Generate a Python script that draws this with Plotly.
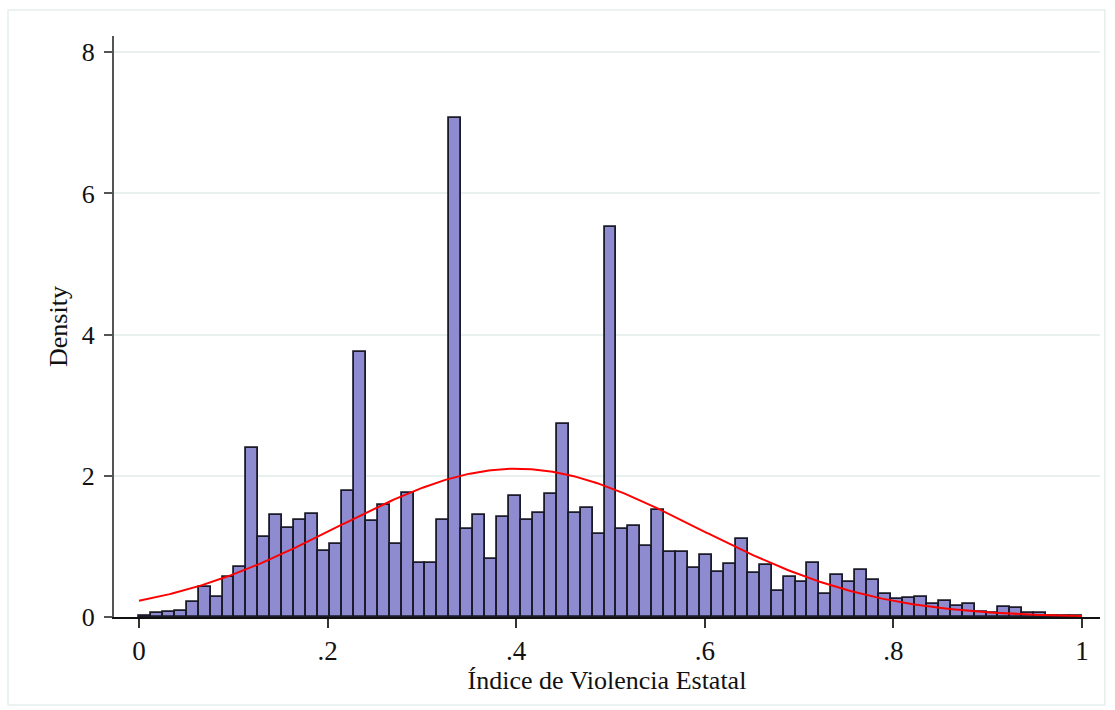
import numpy as np
import plotly.graph_objects as go

# ---- data ----
density = [
    0.02, 0.05, 0.07, 0.08, 0.21, 0.42, 0.28, 0.56, 0.71, 2.39,
    1.14, 1.44, 1.26, 1.38, 1.46, 0.93, 1.04, 1.79, 3.75, 1.36,
    1.58, 1.03, 1.75, 0.76, 0.76, 1.38, 7.07, 1.25, 1.45, 0.82,
    1.41, 1.71, 1.38, 1.48, 1.74, 2.73, 1.48, 1.55, 1.17, 5.53,
    1.25, 1.29, 1.01, 1.51, 0.92, 0.92, 0.70, 0.88, 0.64, 0.75,
    1.10, 0.62, 0.73, 0.37, 0.57, 0.50, 0.77, 0.32, 0.59, 0.50,
    0.67, 0.53, 0.33, 0.25, 0.27, 0.28, 0.19, 0.22, 0.16, 0.18,
    0.07, 0.06, 0.14, 0.13, 0.05, 0.05, 0.02, 0.01, 0.01,
]
x_min, x_max = 0.0, 1.0
norm_mean = 0.40
norm_sd = 0.19

x_tickvals = [0, 0.2, 0.4, 0.6, 0.8, 1]
x_ticktext = ["0", ".2", ".4", ".6", ".8", "1"]
y_tickvals = [0, 2, 4, 6, 8]
y_ticktext = ["0", "2", "4", "6", "8"]
x_title = "Índice de Violencia Estatal"
y_title = "Density"

# ---- derived ----
n_bins = len(density)
bw = (x_max - x_min) / n_bins
centers = x_min + bw * (np.arange(n_bins) + 0.5)

xs = np.linspace(x_min, x_max, 400)
ys = np.exp(-0.5 * ((xs - norm_mean) / norm_sd) ** 2) / (norm_sd * np.sqrt(2 * np.pi))

FONT = "Liberation Serif, Times New Roman, serif"

fig = go.Figure()
fig.add_trace(go.Bar(
    x=centers, y=density, width=bw,
    marker=dict(color="#8f8bd0", line=dict(color="#1a1a28", width=1.8)),
    showlegend=False, hoverinfo="x+y",
))
fig.add_trace(go.Scatter(
    x=xs, y=ys, mode="lines",
    line=dict(color="#ff0000", width=2),
    showlegend=False,
))

fig.update_layout(
    width=1115, height=710,
    margin=dict(l=114, r=15, t=36, b=93),
    paper_bgcolor="white", plot_bgcolor="white",
    bargap=0,
    font=dict(family=FONT, color="#111111", size=26),
)
fig.update_xaxes(
    range=[-0.0265, 1.0191],
    tickvals=x_tickvals, ticktext=x_ticktext,
    ticks="outside", ticklen=9, tickwidth=1.5, tickcolor="#333333",
    showline=True, linecolor="#111111", linewidth=2,
    showgrid=False, zeroline=False,
    tickfont=dict(family=FONT, size=27, color="#111111"),
    title=dict(text=x_title, font=dict(family=FONT, size=26, color="#111111"), standoff=0),
)
fig.update_yaxes(
    range=[0, 8.23],
    tickvals=y_tickvals, ticktext=y_ticktext,
    ticks="outside", ticklen=8, tickwidth=1.5, tickcolor="#555555",
    showline=True, linecolor="#555555", linewidth=2,
    showgrid=True, gridcolor="#e8f0f0", gridwidth=1.5,
    zeroline=False,
    ticklabelstandoff=4,
    tickfont=dict(family=FONT, size=26, color="#111111"),
    title=dict(text=y_title, font=dict(family=FONT, size=26, color="#111111"), standoff=7),
)
# light outer frame
fig.add_shape(type="rect", xref="paper", yref="paper",
              x0=-0.1075, x1=1.005, y0=-0.1515, y1=1.0448,
              line=dict(color="#e6eded", width=1.5), fillcolor="rgba(0,0,0,0)",
              layer="below")

fig.write_html("out.html")
